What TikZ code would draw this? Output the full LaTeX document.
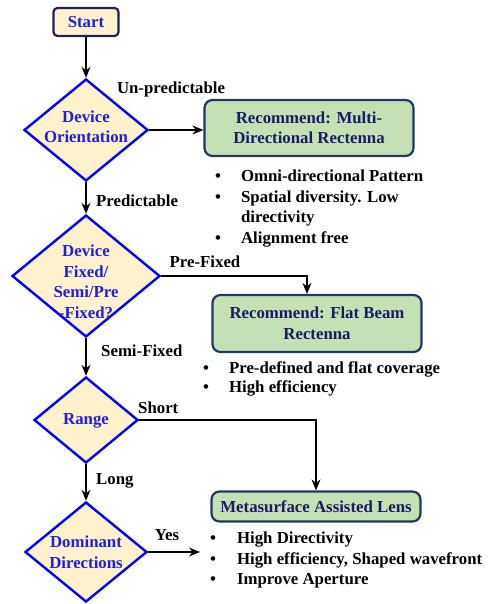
\documentclass[tikz,border=0pt]{standalone}
\usepackage{fontspec}
\setmainfont{Liberation Serif}
\usetikzlibrary{shapes.geometric,arrows.meta}

\definecolor{creamfill}{HTML}{FFF2CC}
\definecolor{decblue}{HTML}{0000FF}
\definecolor{dectext}{HTML}{1E1EE6}
\definecolor{startnavy}{HTML}{202060}
\definecolor{recgreen}{HTML}{C5E0B4}
\definecolor{boxnavy}{HTML}{203864}
\definecolor{rectext}{HTML}{1A1A66}

\begin{document}
\begin{tikzpicture}[x=1pt,y=-1pt,
    font=\fontsize{16.8}{20.5}\selectfont\bfseries,
    startbox/.style={rectangle, rounded corners=4pt, draw=startnavy, fill=creamfill, line width=2.2pt,
      text=dectext, minimum width=65pt, minimum height=28pt, inner sep=0pt},
    decision/.style={diamond, draw=decblue, fill=creamfill, line width=2.4pt, inner sep=0pt},
    dectxt/.style={text=dectext, align=center, inner sep=0pt},
    recbox/.style={rectangle, rounded corners=8pt, draw=boxnavy, fill=recgreen, line width=2.2pt,
      text=rectext, align=center, inner sep=0pt, minimum width=209pt},
    flow/.style={-{Stealth[length=11pt,width=9pt]}, line width=1.4pt},
    edgelabel/.style={inner sep=0pt},
    bulletlist/.style={anchor=north west, inner sep=0pt}]
    \useasboundingbox (0,0) rectangle (490,604);

    % Main decision column
    \node[startbox] (start) at (86,22) {Start};
    \node[decision, minimum width=124pt, minimum height=102pt,
      label={[dectxt, yshift=3pt]center:{Device\\Orientation}}] (orient) at (86,130) {};
    \node[decision, minimum width=148pt, minimum height=122pt,
      label={[dectxt, yshift=-6pt]center:{Device\\Fixed/\\Semi/Pre\\-Fixed?}}] (fixed) at (86,276) {};
    \node[decision, minimum width=104pt, minimum height=86pt,
      label={[dectxt, yshift=-1pt]center:{Range}}] (range) at (86,420) {};
    \node[decision, minimum width=122pt, minimum height=100pt,
      label={[dectxt]center:{Dominant\\Directions}}] (dominant) at (86,552) {};
    \coordinate (yesend) at (200,552);

    % Recommendations
    \node[recbox, minimum height=56pt] (multi) at (309,128) {Recommend: Multi-\\Directional Rectenna};
    \node[recbox, minimum height=57pt] (flat) at (317,323.5) {Recommend: Flat Beam\\Rectenna};
    \node[recbox, minimum height=30pt] (lens) at (316,506.5) {Metasurface Assisted Lens};

    % Bullet lists
    \node[bulletlist] (multilist) at (215,167) {\begin{tabular}{@{}l@{\hspace{20pt}}l@{}}
      \textbullet & Omni-directional Pattern\\
      \textbullet & Spatial diversity. Low\\
                  & directivity\\
      \textbullet & Alignment free
    \end{tabular}};
    \node[bulletlist] (flatlist) at (203,359) {\begin{tabular}{@{}l@{\hspace{20pt}}l@{}}
      \textbullet & Pre-defined and flat coverage\\[-1.5pt]
      \textbullet & High efficiency
    \end{tabular}};
    \node[bulletlist] (lenslist) at (210,529) {\begin{tabular}{@{}l@{\hspace{21pt}}l@{}}
      \textbullet & High Directivity\\
      \textbullet & High efficiency, Shaped wavefront\\
      \textbullet & Improve Aperture
    \end{tabular}};

    % Connectors
    \draw[flow] (start) -- (orient.north);
    \draw[flow] (orient.east) -- (orient.east -| multi.west);
    \draw[flow] (orient.south) -- (fixed.north);
    \draw[flow] (fixed.east) -| ([xshift=-10pt]flat.north);
    \draw[flow] (fixed.south) -- (range.north);
    \draw[flow] (range.east) -| (lens.north);
    \draw[flow] (range.south) -- (dominant.north);
    \draw[flow] (dominant.east) -- (yesend);

    % Connector labels
    \node[edgelabel] (lblunpred) at (171,89) {Un-predictable};
    \node[edgelabel, anchor=west] (lblpred) at (96,201) {Predictable};
    \node[edgelabel] (lblprefixed) at (205,262) {Pre-Fixed};
    \node[edgelabel, anchor=west] (lblsemi) at (101,351) {Semi-Fixed};
    \node[edgelabel, anchor=west] (lblshort) at (138,408) {Short};
    \node[edgelabel, anchor=west] (lbllong) at (96,481) {Long};
    \node[edgelabel] (lblyes) at (167,535) {Yes};
\end{tikzpicture}
\end{document}
